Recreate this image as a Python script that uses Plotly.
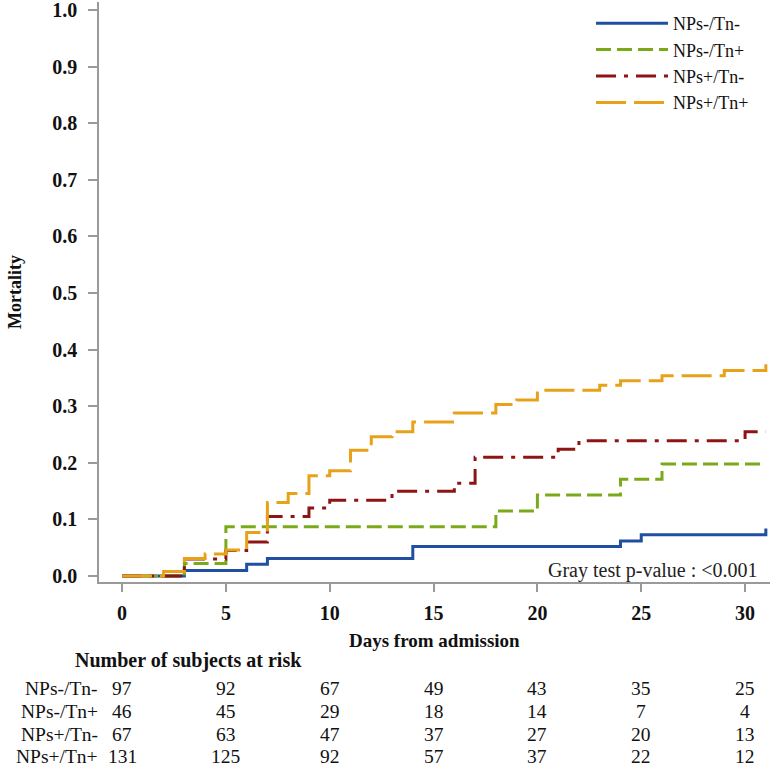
import plotly.graph_objects as go

# ---- data ----
group_names = ["NPs-/Tn-", "NPs-/Tn+", "NPs+/Tn-", "NPs+/Tn+"]

blue_x = [0, 3, 6, 7, 14, 24, 25, 31]
blue_y = [0, 0.010, 0.021, 0.031, 0.052, 0.062, 0.073, 0.084]

green_x = [0, 3, 5, 18, 20, 24, 26, 31]
green_y = [0, 0.022, 0.087, 0.115, 0.143, 0.171, 0.198, 0.198]

red_x = [0, 3, 5, 6, 7, 9, 10, 13, 16, 17, 21, 22, 30, 31]
red_y = [0, 0.030, 0.045, 0.060, 0.105, 0.120, 0.134, 0.150, 0.164, 0.210, 0.224, 0.239, 0.255, 0.255]

orange_x = [0, 2, 3, 4, 5, 6, 7, 8, 9, 10, 11, 12, 13, 14, 16, 18, 19, 20, 23, 24, 26, 29, 31]
orange_y = [0, 0.008, 0.031, 0.039, 0.046, 0.077, 0.130, 0.146, 0.177, 0.186, 0.222, 0.246, 0.255,
            0.272, 0.288, 0.303, 0.311, 0.328, 0.337, 0.345, 0.354, 0.363, 0.374]

risk_times = [0, 5, 10, 15, 20, 25, 30]
risk_blue = [97, 92, 67, 49, 43, 35, 25]
risk_green = [46, 45, 29, 18, 14, 7, 4]
risk_red = [67, 63, 47, 37, 27, 20, 13]
risk_orange = [131, 125, 92, 57, 37, 22, 12]

x_ticks = [0, 5, 10, 15, 20, 25, 30]
y_ticks = [0.0, 0.1, 0.2, 0.3, 0.4, 0.5, 0.6, 0.7, 0.8, 0.9, 1.0]

# ---- styles ----
colors = ["#1F4EA3", "#7AAA1A", "#8E1414", "#E8A21A"]
dashes = ["solid", "15px,6px", "20px,8px,4px,8px", "30px,8px"]
SERIF = "Liberation Serif"
TXT = "#111"

fig = go.Figure()
series = [(blue_x, blue_y), (green_x, green_y), (red_x, red_y), (orange_x, orange_y)]
for (xs, ys), name, c, d in zip(series, group_names, colors, dashes):
    fig.add_trace(go.Scatter(x=xs, y=ys, mode="lines", name=name,
                             line=dict(color=c, width=3, dash=d, shape="hv"),
                             hoverinfo="skip"))

# plot area pixel geometry
W, H = 770, 769
L, R, T, B = 99, 0, 2, 187
PW = W - L - R
PH = H - T - B

def px_x(px):
    return (px - L) / PW

def px_y(py):
    return (H - B - py) / PH

def note(text, x, y, size, xanchor="center", xref="paper", color=TXT, angle=0):
    return dict(text=text, x=x, y=y, xref=xref, yref="paper", xanchor=xanchor, yanchor="middle",
                showarrow=False, textangle=angle, borderpad=0,
                font=dict(family=SERIF, size=size, color=color))

annotations = [
    note("<b>Mortality</b>", px_x(15), px_y(292), 18, angle=-90),
    note("<b>Days from admission</b>", 0.5, px_y(640), 19),
    note("<b>Number of subjects at risk</b>", px_x(74), px_y(661), 20, xanchor="left"),
    note("Gray test p-value : <0.001", px_x(759), px_y(570), 20, xanchor="right", color="#222"),
]

row_py = [688, 711, 734, 756]
for name, counts, py in zip(group_names, [risk_blue, risk_green, risk_red, risk_orange], row_py):
    annotations.append(note(name, px_x(99), px_y(py), 19.5, xanchor="right"))
    for t, n in zip(risk_times, counts):
        annotations.append(note(str(n), t, px_y(py), 19.5, xref="x"))

axis_col = "#9a9a9a"
fig.update_layout(
    width=W, height=H,
    margin=dict(l=L, r=R, t=T, b=B, autoexpand=False),
    plot_bgcolor="white", paper_bgcolor="white",
    showlegend=True,
    legend=dict(x=px_x(591), y=px_y(5), xanchor="left", yanchor="top",
                font=dict(family=SERIF, size=18, color=TXT),
                itemwidth=72, bgcolor="rgba(0,0,0,0)", tracegroupgap=0),
    xaxis=dict(range=[-1.11, 31.2], tickvals=x_ticks, ticks="outside", ticklen=8, automargin=False,
               tickcolor=axis_col, tickwidth=1.5, showline=True, linecolor=axis_col, linewidth=1.5,
               showgrid=False, zeroline=False, ticklabelstandoff=4, ticklabeloverflow="allow",
               tickfont=dict(family=SERIF, size=20, color=TXT, weight="bold")),
    yaxis=dict(range=[-0.0105, 1.014], tickvals=y_ticks, tickformat=".1f", ticks="outside", automargin=False,
               ticklen=9, tickcolor=axis_col, tickwidth=1.5, showline=True, linecolor=axis_col,
               linewidth=1.5, showgrid=False, zeroline=False, ticklabelstandoff=7, ticklabeloverflow="allow",
               tickfont=dict(family=SERIF, size=20, color=TXT, weight="bold")),
    annotations=annotations,
)

fig.write_html("out.html", config={"displayModeBar": False},
               post_script="document.body.style.margin='0px';document.body.style.overflow='hidden';")
